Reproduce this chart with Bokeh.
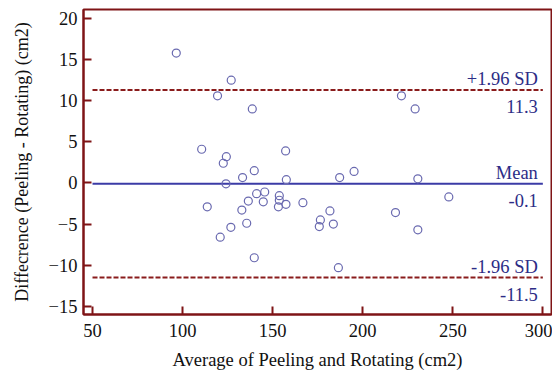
from bokeh.plotting import figure
from bokeh.models import ColumnDataSource, FixedTicker
from bokeh.core.properties import value
from bokeh.embed import file_html
from bokeh.resources import INLINE

avg = [96.5, 127.0, 119.4, 138.7, 110.6, 124.3, 122.6, 139.8, 133.3, 124.1,
       141.1, 145.6, 144.8, 136.5, 113.7, 132.9, 135.6, 126.8, 120.9, 139.8,
       157.2, 157.6, 187.2, 195.2, 230.6, 153.7, 153.7, 153.2, 157.4, 166.8,
       181.8, 176.5, 175.9, 183.7, 218.2, 230.6, 186.5, 221.5, 229.1, 247.8]
diff = [15.8, 12.5, 10.6, 9.0, 4.1, 3.2, 2.4, 1.5, 0.65, -0.1,
        -1.3, -1.1, -2.3, -2.2, -2.9, -3.3, -4.9, -5.4, -6.6, -9.1,
        3.9, 0.4, 0.65, 1.4, 0.5, -1.55, -2.1, -2.9, -2.6, -2.4,
        -3.4, -4.5, -5.3, -5.0, -3.6, -5.7, -10.3, 10.6, 9.0, -1.7]

mean_diff = -0.1
upper_loa = 11.3
lower_loa = -11.5
line_x = [50, 300]

x_ticks = [50, 100, 150, 200, 250, 300]
y_ticks = [-15, -10, -5, 0, 5, 10, 15, 20]

DARKRED = "#7f1416"
BLUE = "#3b3ba6"
TXT = "#2c2c86"
FONT = "Liberation Serif"
FS = "18.5px"

p = figure(width=552, height=372, x_range=(45, 304.8), y_range=(-16.0, 21.1),
           output_backend="svg", toolbar_location=None,
           min_border_left=83, min_border_right=1, min_border_top=9, min_border_bottom=57)
p.background_fill_color = "white"
p.border_fill_color = "white"
p.grid.visible = False
p.outline_line_color = DARKRED
p.outline_line_width = 2

for ax in (p.xaxis[0], p.yaxis[0]):
    ax.axis_line_color = DARKRED
    ax.axis_line_width = 2
    ax.major_tick_line_color = DARKRED
    ax.major_tick_line_width = 2
    ax.major_tick_in = 8
    ax.major_tick_out = 0
    ax.minor_tick_line_color = None
    ax.major_label_text_font = FONT
    ax.major_label_text_font_size = FS
    ax.major_label_text_color = "#111111"
    ax.axis_label_text_font = FONT
    ax.axis_label_text_font_size = FS
    ax.axis_label_text_font_style = "normal"
    ax.axis_label_text_color = "#111111"

p.yaxis.axis_label_text_font_size = "18px"
p.xaxis.ticker = FixedTicker(ticks=x_ticks)
p.yaxis.ticker = FixedTicker(ticks=y_ticks)
p.xaxis.axis_label = "Average of Peeling and Rotating (cm2)"
p.yaxis.axis_label = "Diffecrence (Peeling - Rotating) (cm2)"
p.xaxis.major_label_standoff = 9
p.yaxis.major_label_standoff = 6
p.xaxis.axis_label_standoff = 10
p.yaxis.axis_label_standoff = 14

p.line(line_x, [upper_loa, upper_loa], line_color="#8a1c1c", line_width=2, line_dash="5 2")
p.line(line_x, [lower_loa, lower_loa], line_color="#8a1c1c", line_width=2, line_dash="5 2")
p.line(line_x, [mean_diff, mean_diff], line_color=BLUE, line_width=2)

src = ColumnDataSource(dict(x=avg, y=diff))
p.scatter("x", "y", source=src, size=8, marker="circle", fill_color=None,
          line_color="#6a6ab0", line_width=1.2)

labels_top = ["+1.96 SD", "Mean", "-1.96 SD"]
labels_bot = [f"{upper_loa:.1f}", f"{mean_diff:.1f}", f"{lower_loa:.1f}"]
ys = [upper_loa, mean_diff, lower_loa]
p.text(x=[300] * 3, y=ys, text=labels_top, text_align="right", text_baseline="bottom",
       x_offset=-5, y_offset=-1, text_color=TXT, text_font=value(FONT), text_font_size=FS)
p.text(x=[300] * 3, y=ys, text=labels_bot, text_align="right", text_baseline="top",
       x_offset=-5, y_offset=10, text_color=TXT, text_font=value(FONT), text_font_size=FS)

open("out.html", "w").write(file_html(p, INLINE))
